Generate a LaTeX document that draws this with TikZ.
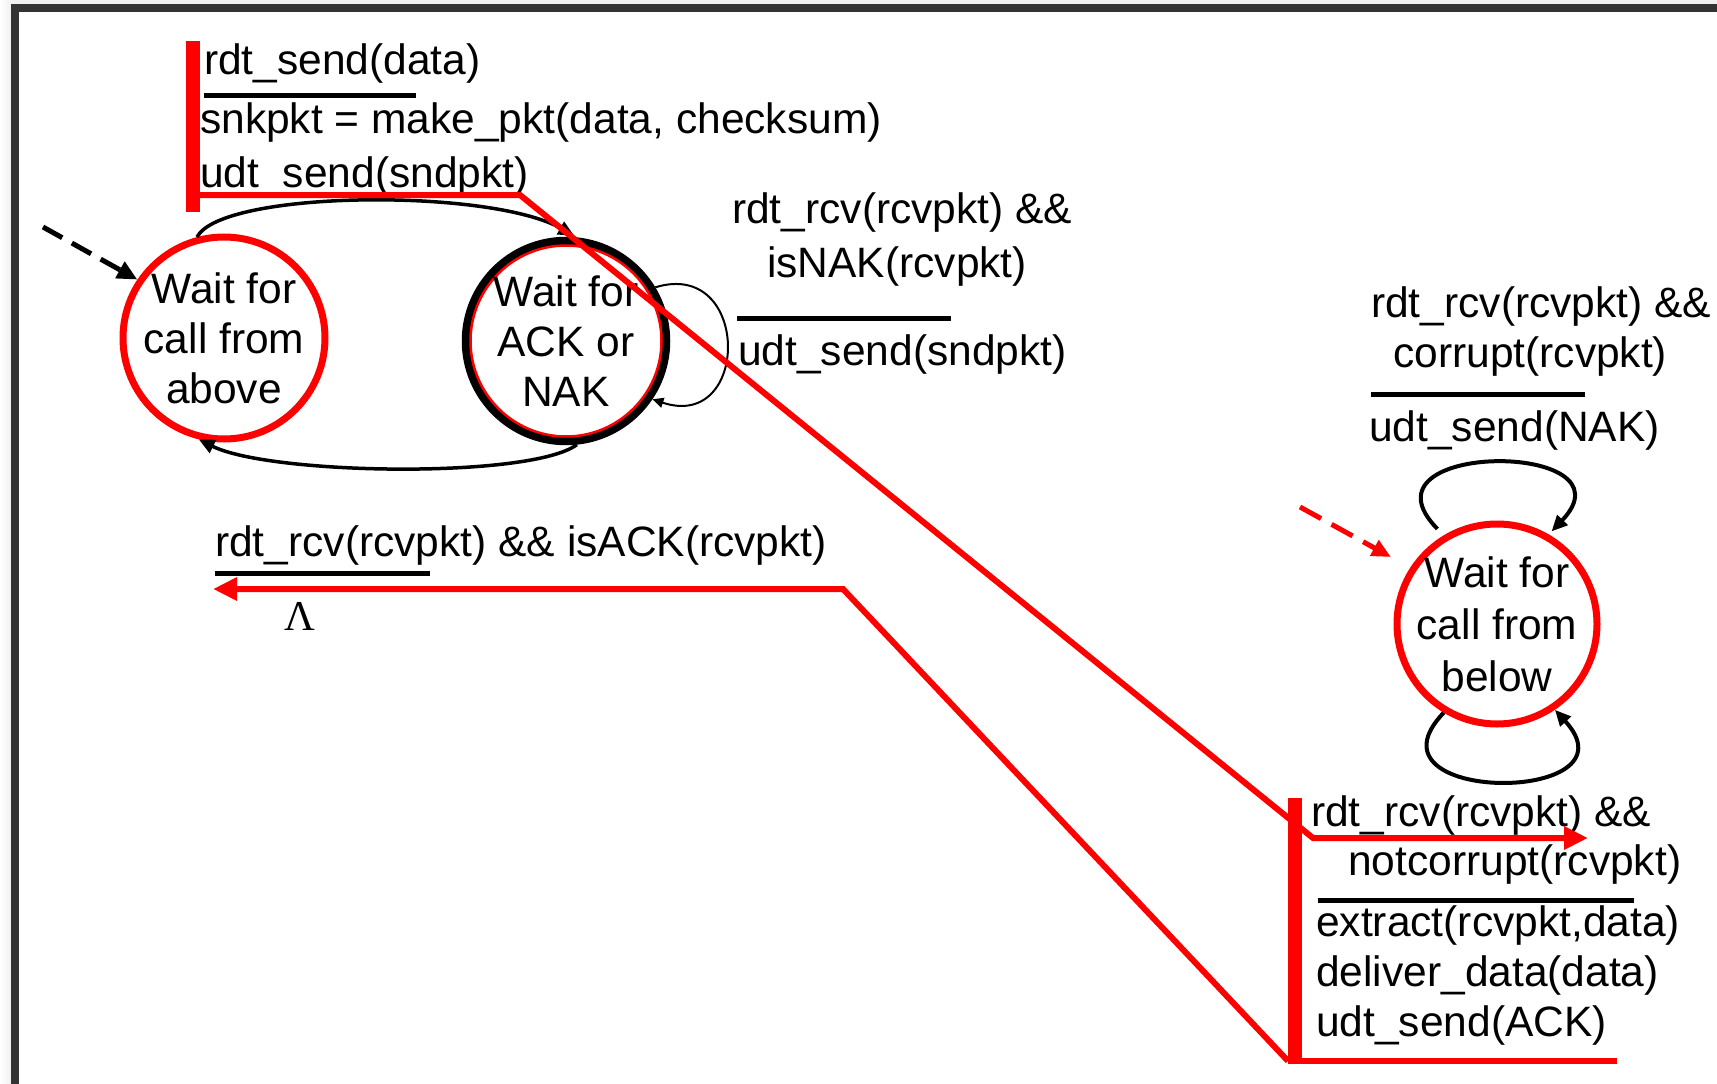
\documentclass[tikz,border=0pt]{standalone}
\usepackage{fontspec}
\setmainfont{Liberation Sans}
\newfontfamily\serifgreek{Liberation Serif}
\usetikzlibrary{arrows.meta}
\definecolor{framegray}{HTML}{333333}
\definecolor{edgegray}{HTML}{F0F0F0}
\definecolor{hlred}{HTML}{FF0000}
\begin{document}
\begin{tikzpicture}[x=1pt,y=-1pt,
  txt/.style={anchor=base west, inner sep=0pt, font=\fontsize{42.5}{50}\selectfont},
  statetext/.style={align=center, inner sep=0pt, font=\fontsize{42.5}{50}\selectfont},
  fsmstate/.style={circle, inner sep=0pt, minimum size=#1},
  sep/.style={line width=5pt, black},
  trans/.style={line width=3.5pt, black, -{Triangle[length=16pt,width=14pt]}},
  thinloop/.style={line width=2pt, black, -{Triangle[length=11pt,width=10pt]}},
  initarrow/.style={line width=5pt, black, dash pattern=on 22pt off 11pt,
                    -{Triangle[length=20pt,width=18pt]}},
  initred/.style={line width=5pt, hlred, dash pattern=on 24pt off 12pt,
                  -{Triangle[length=19pt,width=17pt]}},
  hl/.style={hlred, line width=6pt, line join=miter},
  hlbar/.style={hlred, line width=14pt},
  hlarrow/.style={hl, -{Triangle[length=24pt,width=22pt]}}]

\useasboundingbox (0,0) rectangle (1717,1084);

% window frame
\fill[white] (0,0) rectangle (1717,1084);
\shade[left color=white, right color=edgegray] (0,0) rectangle (11,1084);
\fill[edgegray] (11,0) rectangle (1717,4);
\fill[framegray] (11,4) rectangle (1717,12);
\fill[framegray] (11,4) rectangle (19,1084);

% sender states
\node[fsmstate=202, draw=hlred, line width=7pt] (above) at (224,338) {};
\node[statetext] (abovetxt) at (above) {Wait for\\call from\\above};
\node[fsmstate=200, draw=black, line width=8.5pt] (acknak) at (566,341) {};
\draw[hlred, line width=2.5pt] (acknak.center) circle (95.5);
\node[statetext] (acknaktxt) at (acknak) {Wait for\\ACK or\\NAK};

% receiver state
\node[fsmstate=200, draw=hlred, line width=7pt] (below) at (1497,624) {};
\node[statetext, font=\fontsize{42.5}{52}\selectfont] (belowtxt) at (below) {Wait for\\call from\\below};

% initial-state markers
\coordinate (initA) at (43,227);
\draw[initarrow] (initA) -- (above.146);
\coordinate (initB) at (1300,507);
\draw[initred, shorten >=22pt] (initB) -- (below.147);

% sender transitions
\draw[trans, shorten >=3pt] (above.105) .. controls (222,190) and (490,188) .. (acknak.84);
\draw[trans] (acknak.276) .. controls (530,479) and (270,475) .. (above.256);
\draw[thinloop] (acknak.31) .. controls (751,258) and (751,432) .. (acknak.-34);

% receiver self loops
\draw[trans, line width=4pt, shorten <=9pt, shorten >=4pt] (below.121) .. controls (1350,440) and (1639,440) .. (below.60);
\draw[trans, line width=4pt] (below.239) .. controls (1355,805) and (1642,805) .. (below.304);

% transition labels
\node[txt] (l1) at (204,74) {rdt\_send(data)};
\draw[sep] (204,95) -- (416,95);
\node[txt] (l2) at (200,133) {snkpkt = make\_pkt(data, checksum)};
\node[txt] (l3) at (200,187) {udt\_send(sndpkt)};

\node[txt] (n1) at (732,223) {rdt\_rcv(rcvpkt) \&\&};
\node[txt] (n2) at (767,277) {isNAK(rcvpkt)};
\draw[sep] (737,318) -- (951,318);
\node[txt] (n3) at (738,365) {udt\_send(sndpkt)};

\node[txt] (a1) at (215,556) {rdt\_rcv(rcvpkt) \&\& isACK(rcvpkt)};
\draw[sep] (215,573) -- (430,573);
\node[anchor=base, inner sep=0pt, font=\serifgreek\fontsize{42.5}{50}\selectfont] (lam) at (300,630) {Λ};

\node[txt] (c1) at (1371,317) {rdt\_rcv(rcvpkt) \&\&};
\node[txt] (c2) at (1393,367) {corrupt(rcvpkt)};
\draw[sep] (1371,394) -- (1585,394);
\node[txt] (c3) at (1369,441) {udt\_send(NAK)};

\node[txt] (r1) at (1311,826) {rdt\_rcv(rcvpkt) \&\&};
\node[txt] (r2) at (1348,875) {notcorrupt(rcvpkt)};
\draw[sep] (1318,900) -- (1634,900);
\node[txt] (r3) at (1316,936) {extract(rcvpkt,data)};
\node[txt] (r4) at (1316,986) {deliver\_data(data)};
\node[txt] (r5) at (1316,1036) {udt\_send(ACK)};

% highlighted path: send data, receiver gets it and acknowledges
\draw[hlbar] (192.5,41) -- (192.5,212);
\draw[hlarrow] (199,195) -- (520,195) -- (1313,838) -- (1588,838);
\draw[hlbar] (1294.5,798) -- (1294.5,1064);
\draw[hl] (1294,1061) -- (1617,1061);
\draw[hlarrow] (1288,1061) -- (843,589) -- (213,589);
\end{tikzpicture}
\end{document}
